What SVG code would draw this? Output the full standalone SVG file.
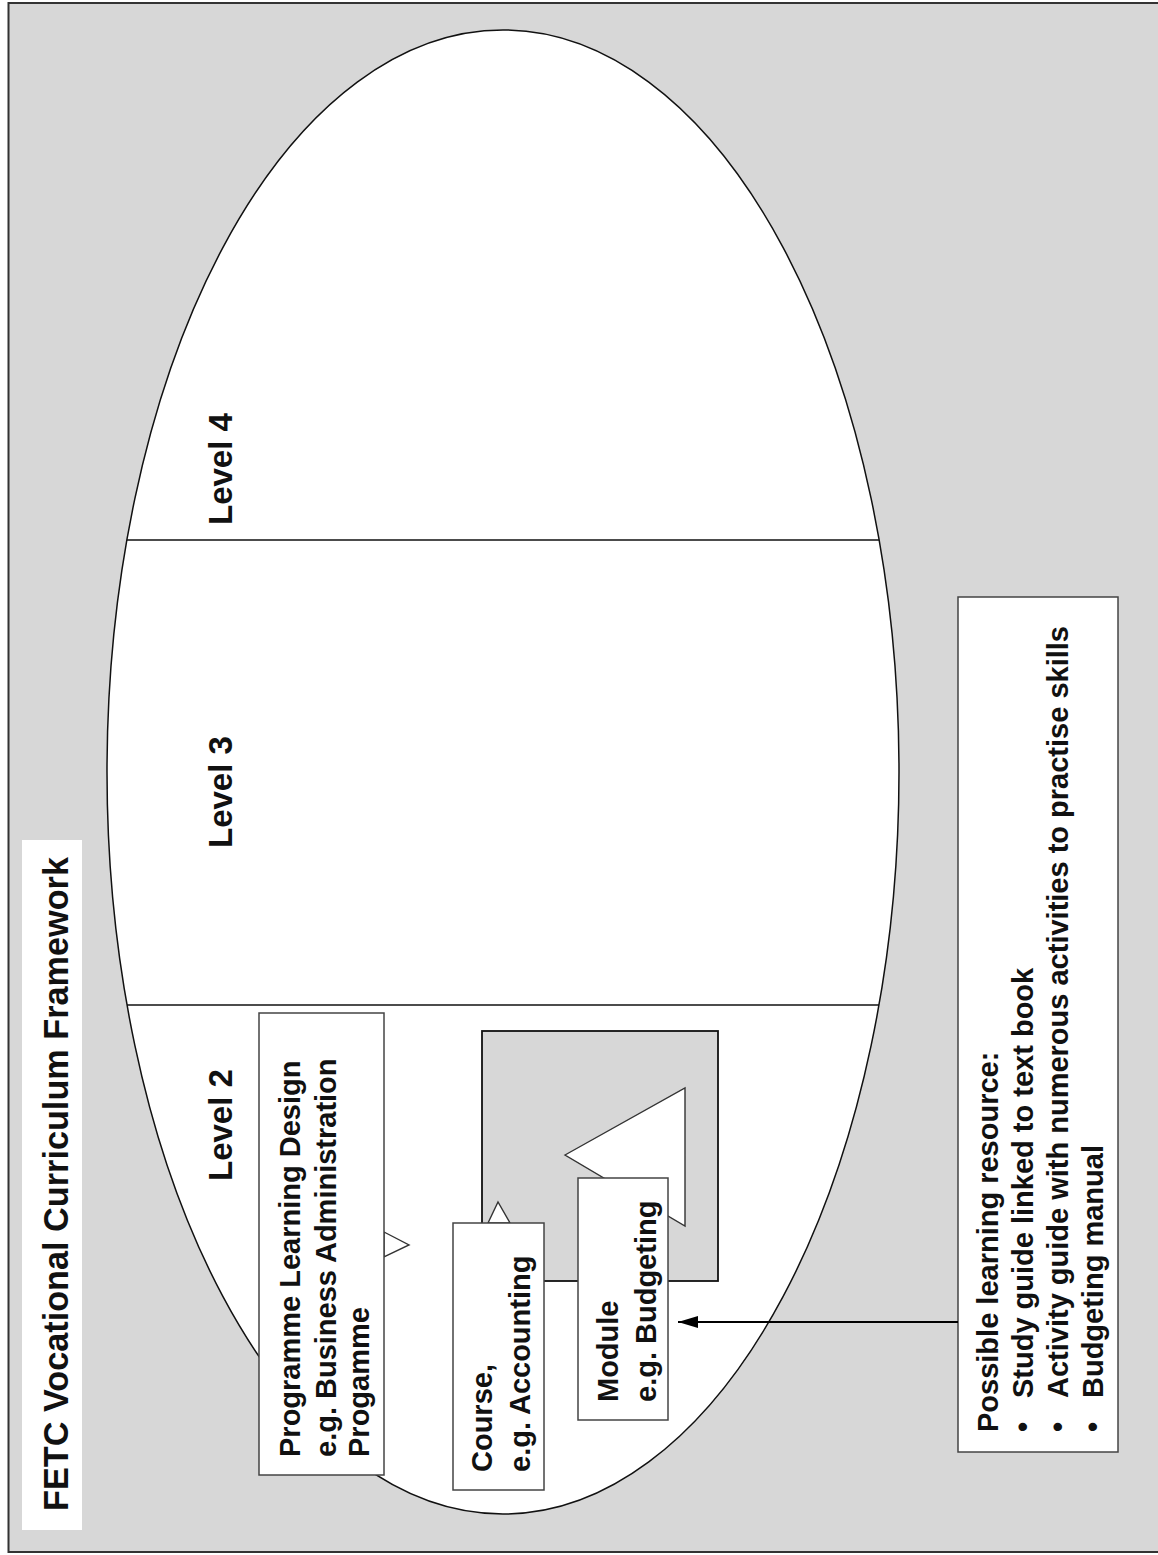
<svg xmlns="http://www.w3.org/2000/svg" width="1158" height="1555" viewBox="0 0 1158 1555">
  <defs>
    <style>
      .bg { fill: #d7d7d7; stroke: #333; stroke-width: 2; }
      .oval { fill: #fff; stroke: #111; stroke-width: 1.5; }
      .divider { stroke: #111; stroke-width: 1.6; fill: none; }
      .panel { fill: #d7d7d7; stroke: #111; stroke-width: 1.8; }
      .box { fill: #fff; stroke: #444; stroke-width: 1.5; }
      .pointer { fill: #fff; stroke: #333; stroke-width: 1.4; }
      .conn { stroke: #000; stroke-width: 2; fill: none; }
      text { font-family: "Liberation Sans", Arial, sans-serif; font-weight: bold; fill: #111; }
      .title { font-size: 35px; }
      .level { font-size: 33px; }
      .lbl { font-size: 29px; }
    </style>
    <marker id="arrowhead" markerUnits="userSpaceOnUse" markerWidth="20" markerHeight="12" refX="20" refY="6" orient="auto">
      <path d="M0,0 L20,6 L0,12 Z" fill="#000"/>
    </marker>
  </defs>

  <!-- page background and frame -->
  <rect x="0" y="0" width="1158" height="1555" fill="#fff"/>
  <rect class="bg" x="8.5" y="3" width="1160" height="1549"/>

  <!-- framework oval with level bands -->
  <g id="framework">
    <ellipse class="oval" cx="503" cy="772" rx="396" ry="742"/>
    <line class="divider" x1="127" y1="540" x2="879" y2="540"/>
    <line class="divider" x1="127" y1="1005" x2="879" y2="1005"/>
  </g>

  <!-- title label -->
  <g id="title">
    <rect x="22" y="840" width="60" height="690" fill="#fff"/>
    <text class="title" transform="translate(68,1511) rotate(-90)" textLength="654" lengthAdjust="spacingAndGlyphs">FETC Vocational Curriculum Framework</text>
  </g>

  <!-- level labels -->
  <g id="level4"><text class="level" transform="translate(232,525) rotate(-90)">Level 4</text></g>
  <g id="level3"><text class="level" transform="translate(232,848) rotate(-90)">Level 3</text></g>
  <g id="level2"><text class="level" transform="translate(232,1181) rotate(-90)">Level 2</text></g>

  <!-- course area (grey panel) -->
  <g id="course-area">
    <rect class="panel" x="482" y="1031" width="236" height="250"/>
  </g>

  <!-- programme callout -->
  <g id="programme">
    <polygon class="pointer" points="384,1232 409,1245 384,1257"/>
    <rect class="box" x="259" y="1013" width="125" height="462"/>
    <text class="lbl" transform="translate(300,1457) rotate(-90)">
      <tspan x="0" y="0">Programme Learning Design</tspan>
      <tspan x="0" y="36">e.g. Business Administration</tspan>
      <tspan x="0" y="69">Progamme</tspan>
    </text>
  </g>

  <!-- course callout -->
  <g id="course">
    <polygon class="pointer" points="488,1223 498,1202 510,1223"/>
    <rect class="box" x="453" y="1223" width="91" height="267"/>
    <text class="lbl" transform="translate(492,1472) rotate(-90)">
      <tspan x="0" y="0">Course,</tspan>
      <tspan x="0" y="38">e.g. Accounting</tspan>
    </text>
  </g>

  <!-- module callout -->
  <g id="module">
    <polygon class="pointer" points="565,1155 685,1088 685,1226"/>
    <rect class="box" x="578" y="1178" width="90" height="242"/>
    <text class="lbl" transform="translate(618,1402) rotate(-90)">
      <tspan x="0" y="0">Module</tspan>
      <tspan x="0" y="38">e.g. Budgeting</tspan>
    </text>
  </g>

  <!-- learning resources note -->
  <g id="resources">
    <rect class="box" x="958" y="597" width="160" height="855"/>
    <text class="lbl" transform="translate(998,1432) rotate(-90)">
      <tspan x="0" y="0">Possible learning resource:</tspan>
      <tspan x="0" y="35">•</tspan>
      <tspan x="34" y="35">Study guide linked to text book</tspan>
      <tspan x="0" y="70">•</tspan>
      <tspan x="34" y="70">Activity guide with numerous activities to practise skills</tspan>
      <tspan x="0" y="105">•</tspan>
      <tspan x="34" y="105">Budgeting manual</tspan>
    </text>
  </g>

  <!-- connectors -->
  <g id="connectors">
    <line class="conn" x1="958" y1="1322" x2="678" y2="1322" marker-end="url(#arrowhead)"/>
  </g>
</svg>
